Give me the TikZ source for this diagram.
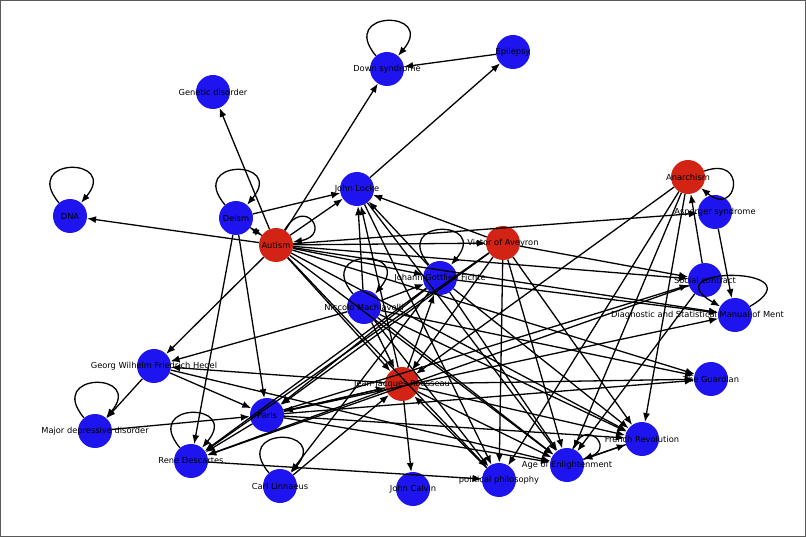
\documentclass[tikz,border=0pt]{standalone}
\usepackage{fontspec}
\setmainfont{DejaVu Sans}
\usetikzlibrary{arrows.meta}
\begin{document}
\begin{tikzpicture}[x=1pt,y=-1pt,
  bn/.style={circle,fill={rgb,255:red,30;green,20;blue,240},minimum size=34pt,inner sep=0pt},
  rn/.style={circle,fill={rgb,255:red,210;green,35;blue,20},minimum size=34pt,inner sep=0pt},
  lab/.style={font=\fontsize{8.3}{9}\selectfont,inner sep=0pt},
  ed/.style={-{Latex[length=9pt,width=7pt]},line width=1.3pt},
  lp/.style={ed,looseness=8,min distance=30pt}]
\draw[gray!70!black] (0.5,0.5) rectangle (805.5,536.5);
\useasboundingbox (0,0) rectangle (806,537);
\foreach \n/\x/\y/\s in {ds/387/69/bn,ep/513/52/bn,gd/213/92/bn,dna/70/216/bn,de/236/218/bn,jl/357/189/bn,au/276/245/rn,va/503/243/rn,an/688/177/rn,as/715/212/bn,fi/440/278/bn,ma/364/307/bn,sc/705/280/bn,dsm/735/315/bn,he/154/366/bn,ro/402/384/rn,gu/711/379/bn,md/95/431/bn,pa/267/415/bn,rd/191/461/bn,cl/280/486/bn,jc/413/489/bn,pp/499/480/bn,ae/567/465/bn,fr/642/439/bn}
  {\node[\s] (\n) at (\x,\y) {};}
% loops
\foreach \n in {ds,dna,de,fi,ma,md,rd,cl}
  {\draw[ed] (\n) to[out=130,in=50,looseness=7] (\n);}
\draw[ed] (au) to[out=60,in=10,looseness=7] (au);
\draw[ed] (an) to[out=20,in=-40,looseness=7] (an);
\draw[ed] (dsm) to[out=30,in=150,looseness=7] (dsm);
\draw[ed] (ae) to[out=70,in=20,looseness=6] (ae);
% edges
\foreach \a/\b in {au/gd,au/ds,au/dna,au/de,au/jl,au/va,au/as,au/fi,au/sc,au/ro,au/gu,au/pp,au/ae,au/fr,au/he,au/dsm,
 de/jl,de/pa,de/rd,de/au,jl/ep,ep/ds,
 va/jl,va/ro,va/pa,va/rd,va/pp,va/ae,va/fr,va/sc,
 an/ro,an/pp,an/ae,an/fr,sc/an,as/dsm,sc/rd,sc/ae,
 ma/jl,ma/fi,ma/he,ma/ro,ma/gu,ma/ae,ma/fr,ma/pp,
 fi/jl,fi/rd,fi/pa,fi/cl,fi/ae,fi/dsm,fi/fr,
 ro/jc,ro/pa,ro/jl,ro/ae,ro/fr,ro/gu,ro/he,ro/rd,
 pa/ro,pa/ae,pa/fr,pa/gu,pa/sc,pa/rd,
 rd/pp,md/pa,he/pa,he/md,he/ae,cl/ro,fr/ae,ae/fr,pa/dsm,ro/fi,pp/ro,jl/ae,jl/pp}
  {\draw[ed] (\a) -- (\b);}
\foreach \n/\x/\y/\t in {ds/387/69/Down syndrome,ep/513/52/Epilepsy,gd/213/92/Genetic disorder,dna/70/216/DNA,de/236/218/Deism,jl/357/189/John Locke,au/276/245/Autism,va/503/243/Victor of Aveyron,an/688/177/Anarchism,as/715/212/Asperger syndrome,fi/440/278/Johann Gottlieb Fichte,ma/364/307/Niccolo Machiavelli,sc/705/280/Social contract,gu/711/379/The Guardian,he/154/366/Georg Wilhelm Friedrich Hegel,ro/402/384/Jean-Jacques Rousseau,md/95/431/Major depressive disorder,pa/267/415/Paris,rd/191/461/Rene Descartes,cl/280/486/Carl Linnaeus,jc/413/489/John Calvin,pp/499/480/political philosophy,ae/567/465/Age of Enlightenment,fr/642/439/French Revolution}
  {\node[lab] at (\x,\y) {\t};}
\node[lab,anchor=west] at (611,315) {Diagnostic and Statistical Manual of Ment};
\end{tikzpicture}
\end{document}
